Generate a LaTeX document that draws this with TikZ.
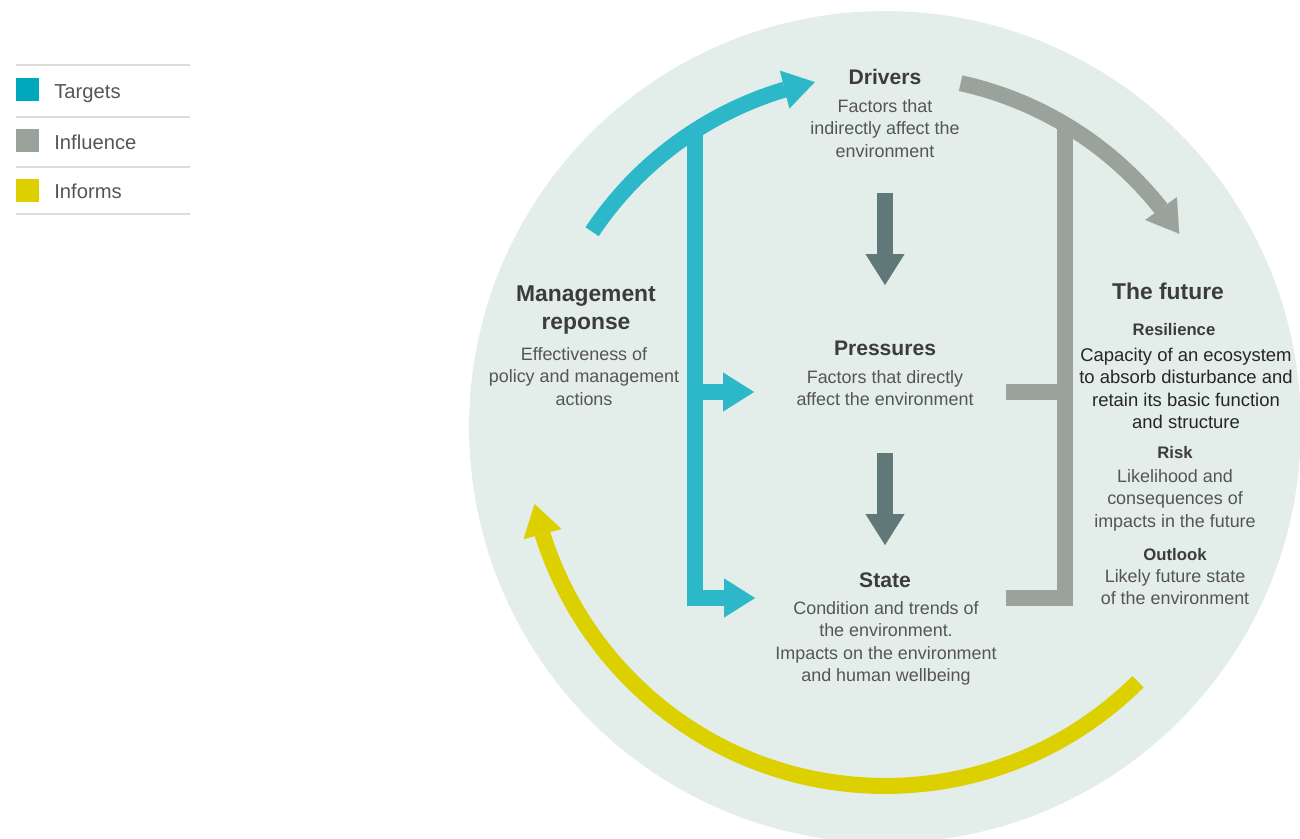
\documentclass[tikz,border=0pt]{standalone}
\usepackage{fontspec}
\setmainfont{Liberation Sans}
\usepackage{tikz}
\usetikzlibrary{arrows.meta,bending}
\definecolor{bgcol}{HTML}{E3EDEA}
\definecolor{tealcol}{HTML}{2DB8C9}
\definecolor{tealkey}{HTML}{00A8BB}
\definecolor{graycol}{HTML}{9AA39B}
\definecolor{yellowcol}{HTML}{DCD000}
\definecolor{downcol}{HTML}{607877}
\definecolor{headcol}{HTML}{3C3C3C}
\definecolor{bodycol}{HTML}{555555}
\definecolor{rulecol}{HTML}{DDDDDD}

\begin{document}
\begin{tikzpicture}[x=0.02cm,y=-0.02cm,
  flow/.style={line width=0.32cm,line cap=butt,line join=miter},
  tip/.style={-{Triangle[length=0.62cm,width=0.78cm,line width=0.1pt]}},
  head/.style={font=\bfseries\fontsize{12}{14}\selectfont,text=headcol,anchor=base,inner sep=0pt},
  sub/.style={font=\bfseries\fontsize{9.5}{11}\selectfont,text=headcol,anchor=base,inner sep=0pt},
  body/.style={font=\fontsize{10.2}{12.8}\selectfont,text=bodycol,align=center,anchor=north,inner sep=0pt},
  key/.style={minimum size=0.46cm,inner sep=0pt},
  keytext/.style={font=\fontsize{11.5}{13}\selectfont,text=bodycol,anchor=base west,inner sep=0pt},
  rule/.style={rulecol,line width=1.5pt}]
\useasboundingbox (0,0) rectangle (1300,838);
\clip (0,0) rectangle (1300,838);
\fill[bgcol] (885,427) circle[radius=8.32cm];

\draw[rule] (16,65) -- (190,65);
\draw[rule] (16,117) -- (190,117);
\draw[rule] (16,167) -- (190,167);
\draw[rule] (16,214) -- (190,214);
\node[key,fill=tealkey] (kT) at (27.5,89.5) {};
\node[key,fill=graycol] (kI) at (27.5,140.5) {};
\node[key,fill=yellowcol] (kF) at (27.5,190.5) {};
\node[keytext] (lT) at (54,98) {Targets};
\node[keytext] (lI) at (54,149) {Influence};
\node[keytext] (lF) at (54,198) {Informs};

\node[head] (drv) at (885,85) {Drivers};
\node[body] (drvt) at (885,99) {Factors that\\indirectly affect the\\environment};
\node[head] (prs) at (885,355) {Pressures};
\node[body] (prst) at (885,370) {Factors that directly\\affect the environment};
\node[head] (st) at (885,587) {State};
\node[body] (stt) at (886,601) {Condition and trends of\\the environment.\\Impacts on the environment\\and human wellbeing};
\node[head,font=\bfseries\fontsize{13}{15.9}\selectfont,align=center,anchor=north] (mgt) at (586,285) {Management\\reponse};
\node[body] (mgtt) at (584,347) {Effectiveness of\\policy and management\\actions};
\node[head,font=\bfseries\fontsize{13}{15}\selectfont] (fut) at (1168,299) {The future};
\node[sub] (res) at (1174,335) {Resilience};
\node[body,text=black!85,font=\fontsize{10.5}{12.6}\selectfont] (rest) at (1186,348) {Capacity of an ecosystem\\to absorb disturbance and\\retain its basic function\\and structure};
\node[sub] (rsk) at (1175,458) {Risk};
\node[body] (rskt) at (1175,469) {Likelihood and\\consequences of\\impacts in the future};
\node[sub] (out) at (1175,560) {Outlook};
\node[body] (outt) at (1175,569) {Likely future state\\of the environment};

\coordinate (d1a) at (885,193);
\coordinate (d1b) at (885,285);
\coordinate (d2a) at (885,453);
\coordinate (d2b) at (885,545);
\draw[flow,downcol,tip] (d1a) -- (d1b);
\draw[flow,downcol,tip] (d2a) -- (d2b);

\coordinate (tS) at (592.1,231.7);
\coordinate (tTop) at (695,133);
\coordinate (tMid) at (695,392);
\coordinate (pIn) at (754,392);
\coordinate (sIn) at (755,598);
\draw[flow,tealcol,tip] (tS) arc[start angle=146.3,end angle=101.5,radius=7.04cm];
\draw[flow,tealcol,tip] (tTop) |- (sIn);
\draw[flow,tealcol,tip] (tMid) -- (pIn);

\coordinate (gS) at (960.6,83.2);
\coordinate (gTop) at (1065,127);
\coordinate (gMid) at (1065,392);
\coordinate (gOut1) at (1006,392);
\coordinate (gOut2) at (1006,598);
\draw[flow,graycol,tip] (gS) arc[start angle=77.6,end angle=33.3,radius=7.04cm];
\draw[flow,graycol] (gTop) |- (gOut2);
\draw[flow,graycol] (gMid) -- (gOut1);

\coordinate (yS) at (1138,681.7);
\draw[flow,yellowcol,tip] (yS) arc[start angle=314.8,end angle=192.4,radius=7.18cm];
\end{tikzpicture}
\end{document}
